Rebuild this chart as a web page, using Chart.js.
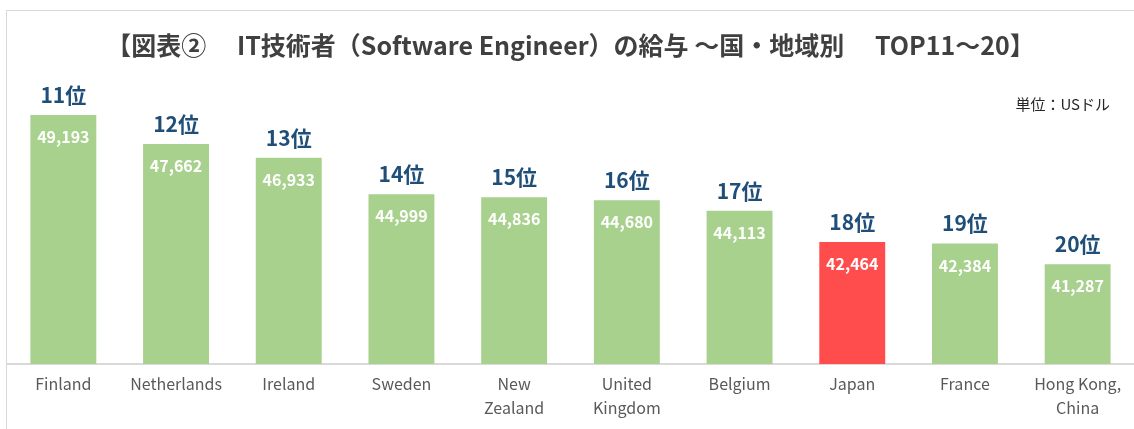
<!DOCTYPE html>
<html lang="ja">
<head>
  <meta charset="UTF-8">
  <title>IT技術者の給与 TOP11～20</title>
  <script src="https://cdn.jsdelivr.net/npm/chart.js"></script>
  <style>
    body {
      margin: 0;
      background: #ffffff;
      overflow: hidden;
    }
    .frame {
      position: absolute;
      left: 6px;
      top: 10px;
      width: 1200px;
      height: 500px;
      border-left: 1px solid #d9d9d9;
      border-top: 1px solid #d9d9d9;
    }
    #salaryChart {
      position: absolute;
      left: 0;
      top: 0;
    }
  </style>
</head>
<body>
  <div class="frame"></div>
  <canvas id="salaryChart" width="1134" height="429"></canvas>
  <script>
    // data
    const countries = [
      ['Finland'], ['Netherlands'], ['Ireland'], ['Sweden'], ['New', 'Zealand'],
      ['United', 'Kingdom'], ['Belgium'], ['Japan'], ['France'], ['Hong Kong,', 'China']
    ];
    const salaries = [49193, 47662, 46933, 44999, 44836, 44680, 44113, 42464, 42384, 41287];
    const ranks = ['11位', '12位', '13位', '14位', '15位', '16位', '17位', '18位', '19位', '20位'];
    const highlight = 'Japan';

    const GREEN = '#a9d18e';
    const RED = '#ff4d4d';
    const FONT = '"Noto Sans CJK JP", "Noto Sans", sans-serif';

    // rank above each bar, value inside top of bar, unit note
    const barLabels = {
      id: 'barLabels',
      afterDatasetsDraw(chart) {
        const ctx = chart.ctx;
        const meta = chart.getDatasetMeta(0);
        ctx.save();
        ctx.textAlign = 'center';
        ctx.textBaseline = 'middle';
        meta.data.forEach((bar, i) => {
          ctx.fillStyle = '#1f4e79';
          ctx.font = 'bold 21px ' + FONT;
          ctx.fillText(ranks[i], bar.x, bar.y - 20);
          ctx.fillStyle = '#ffffff';
          ctx.font = 'bold 16px ' + FONT;
          ctx.fillText(salaries[i].toLocaleString('en-US'), bar.x, bar.y + 22);
        });
        ctx.textAlign = 'right';
        ctx.fillStyle = '#262626';
        ctx.font = '15px ' + FONT;
        ctx.fillText('単位：USドル', chart.chartArea.right - 24, 104);
        ctx.restore();
      }
    };

    new Chart(document.getElementById('salaryChart'), {
      type: 'bar',
      data: {
        labels: countries,
        datasets: [{
          data: salaries,
          backgroundColor: countries.map(c => c[0] === highlight ? RED : GREEN),
          barPercentage: 0.585,
          categoryPercentage: 1.0
        }]
      },
      options: {
        responsive: false,
        animation: false,
        layout: {
          padding: { left: 7, right: 0, top: 0, bottom: 0 }
        },
        plugins: {
          legend: { display: false },
          tooltip: { enabled: false },
          title: {
            display: true,
            text: '【図表②　 IT技術者（Software Engineer）の給与 ～国・地域別　 TOP11～20】',
            color: '#404040',
            font: { family: FONT, size: 25, weight: 'bold', lineHeight: 1.2 },
            padding: { top: 30, bottom: 2 }
          }
        },
        scales: {
          x: {
            grid: { display: false },
            border: { color: '#d9d9d9', width: 2 },
            ticks: {
              color: '#595959',
              font: { family: FONT, size: 16, lineHeight: 1.5 },
              padding: 0,
              maxRotation: 0,
              autoSkip: false
            },
            afterFit(scale) { scale.height = 65; }
          },
          y: {
            display: false,
            min: 36000,
            max: 52000
          }
        }
      },
      plugins: [barLabels]
    });
  </script>
</body>
</html>
